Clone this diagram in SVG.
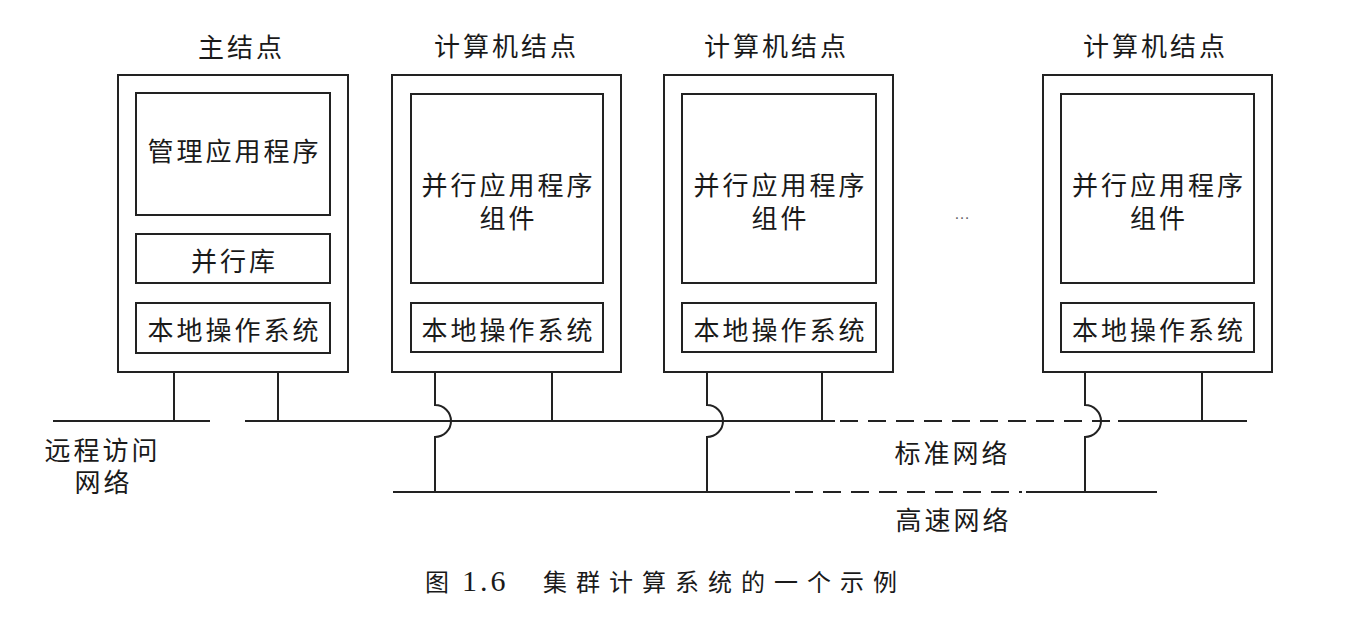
<svg xmlns="http://www.w3.org/2000/svg" width="1368" height="622" viewBox="0 0 1368 622">
<style>
.box{fill:none;stroke:#222;stroke-width:2}
.ln{fill:none;stroke:#222;stroke-width:2}
.dash{fill:none;stroke:#222;stroke-width:2;stroke-dasharray:18 10}
.t{font-family:"Noto Sans CJK SC","Noto Sans",sans-serif;font-size:26px;fill:#1a1a1a;letter-spacing:3px;text-anchor:middle}
.cap{font-family:"Noto Sans CJK SC",sans-serif;font-size:24px;fill:#1a1a1a}
.num{font-family:"Liberation Serif",serif;font-size:30px;fill:#1a1a1a;letter-spacing:3px}
</style>
<rect width="1368" height="622" fill="#fff"/>

<g id="main-node">
<text class="t" x="241.5" y="57">主结点</text>
<rect class="box" x="118" y="75" width="230" height="297"/>
<rect class="box" x="136" y="93" width="194" height="122"/>
<text class="t" x="234.5" y="161">管理应用程序</text>
<rect class="box" x="136" y="234" width="194" height="49"/>
<text class="t" x="234.5" y="271">并行库</text>
<rect class="box" x="136" y="303" width="194" height="50"/>
<text class="t" x="234.5" y="340">本地操作系统</text>
</g>

<g id="compute-node-1">
<text class="t" x="506.5" y="56">计算机结点</text>
<rect class="box" x="392" y="75" width="229" height="297"/>
<rect class="box" x="411" y="94" width="192" height="189"/>
<text class="t" x="508.5" y="195">并行应用程序<tspan x="508.5" dy="33">组件</tspan></text>
<rect class="box" x="411" y="303" width="192" height="49"/>
<text class="t" x="508.5" y="340">本地操作系统</text>
</g>

<g id="compute-node-2">
<text class="t" x="776.5" y="56">计算机结点</text>
<rect class="box" x="664" y="75" width="229" height="297"/>
<rect class="box" x="682" y="94" width="194" height="189"/>
<text class="t" x="780.5" y="195">并行应用程序<tspan x="780.5" dy="33">组件</tspan></text>
<rect class="box" x="682" y="303" width="194" height="49"/>
<text class="t" x="780.5" y="340">本地操作系统</text>
</g>

<g id="ellipsis">
<text x="962" y="219" font-family="Liberation Sans, sans-serif" font-size="16" fill="#666" text-anchor="middle">…</text>
</g>

<g id="compute-node-3">
<text class="t" x="1155.5" y="56">计算机结点</text>
<rect class="box" x="1043" y="75" width="229" height="297"/>
<rect class="box" x="1061" y="94" width="193" height="189"/>
<text class="t" x="1159" y="195">并行应用程序<tspan x="1159" dy="33">组件</tspan></text>
<rect class="box" x="1061" y="303" width="193" height="49"/>
<text class="t" x="1159" y="340">本地操作系统</text>
</g>

<g id="connectors">
<line class="ln" x1="53" y1="421" x2="210" y2="421"/>
<line class="ln" x1="245" y1="421" x2="835" y2="421"/>
<line class="dash" x1="840" y1="421" x2="1112" y2="421"/>
<line class="ln" x1="1118" y1="421" x2="1247" y2="421"/>
<line class="ln" x1="393" y1="492" x2="790" y2="492"/>
<line class="dash" x1="795" y1="492" x2="1022" y2="492"/>
<line class="ln" x1="1026" y1="492" x2="1157" y2="492"/>
<line class="ln" x1="174" y1="372" x2="174" y2="421"/>
<line class="ln" x1="278" y1="372" x2="278" y2="421"/>
<line class="ln" x1="552" y1="372" x2="552" y2="421"/>
<line class="ln" x1="822" y1="372" x2="822" y2="421"/>
<line class="ln" x1="1202" y1="372" x2="1202" y2="421"/>
<path class="ln" d="M435 372 V405 A16 16 0 0 1 435 437 V492"/>
<path class="ln" d="M707 372 V405 A16 16 0 0 1 707 437 V492"/>
<path class="ln" d="M1085 372 V405 A16 16 0 0 1 1085 437 V492"/>
</g>

<g id="labels">
<text class="t" x="102.5" y="460">远程访问<tspan x="103.5" dy="32">网络</tspan></text>
<text class="t" x="952.5" y="463">标准网络</text>
<text class="t" x="953.5" y="530">高速网络</text>
</g>

<g id="caption">
<text class="cap" x="425" y="591" font-size="25">图</text>
<text class="num" x="462" y="591">1.6</text>
<text class="cap" x="543" y="591" letter-spacing="9">集群计算系统的一个示例</text>
</g>
</svg>
